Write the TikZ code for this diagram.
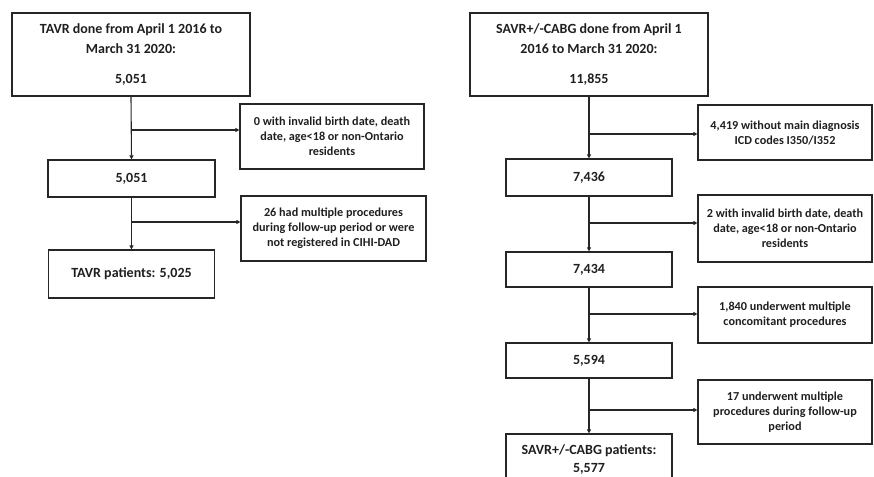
\documentclass[tikz,border=0pt]{standalone}
\usepackage{fontspec}
\setmainfont{Carlito}
\usetikzlibrary{arrows.meta}
\begin{document}
\begin{tikzpicture}[x=1pt,y=-1pt,
  box/.style={draw=black!85,line width=1.2pt,align=center,inner sep=1pt,font=\bfseries\fontsize{14}{20}\selectfont,text=black!88},
  side/.style={draw=black!85,line width=1.2pt,align=center,inner sep=1pt,font=\bfseries\fontsize{12.2}{15}\selectfont,text=black!88},
  link/.style={draw=black!85,line width=1.1pt,-{Triangle[length=4pt,width=4pt]}},
  trunk/.style={draw=black!85,line width=1.1pt}]
\useasboundingbox (0,0) rectangle (874,476);
% left column
\node[box,minimum width=238pt,minimum height=83pt] (L1) at (131,54.5) {TAVR done from April 1 2016 to\\March 31 2020:\\[10pt]5,051};
\node[side,minimum width=184pt,minimum height=65pt] (LS1) at (332,136.5) {0 with invalid birth date, death\\date, age<18 or non-Ontario\\residents};
\node[box,minimum width=167pt,minimum height=37pt] (L2) at (131.5,178.5) {5,051};
\node[side,minimum width=185pt,minimum height=65pt] (LS2) at (333.5,228.5) {26 had multiple procedures\\during follow-up period or were\\not registered in CIHI-DAD};
\node[box,minimum width=166pt,minimum height=48pt] (L3) at (131.5,274) {TAVR patients: 5,025};
\draw[link] (L1.south) -- (L2.north);
\draw[link] (L2.south) -- (L3.north);
\coordinate (lb1) at (131.5,130);
\coordinate (lb2) at (131.5,222);
\draw[link] (lb1) -- (lb1 -| LS1.west);
\draw[link] (lb2) -- (lb2 -| LS2.west);
% right column
\node[box,minimum width=238pt,minimum height=83pt] (R1) at (589,54.5) {SAVR+/-CABG done from April 1\\2016 to March 31 2020:\\[10pt]11,855};
\node[side,minimum width=174pt,minimum height=55pt] (RS1) at (785,132.5) {4,419 without main diagnosis\\ICD codes I350/I352};
\node[box,minimum width=166pt,minimum height=37pt] (R2) at (589,177.5) {7,436};
\node[side,minimum width=174pt,minimum height=67pt] (RS2) at (785,228.5) {2 with invalid birth date, death\\date, age<18 or non-Ontario\\residents};
\node[box,minimum width=166pt,minimum height=35pt] (R3) at (589,269.5) {7,434};
\node[side,minimum width=174pt,minimum height=56pt] (RS3) at (785,315) {1,840 underwent multiple\\concomitant procedures};
\node[box,minimum width=166pt,minimum height=35pt] (R4) at (589,360.5) {5,594};
\node[side,minimum width=174pt,minimum height=64pt] (RS4) at (785,412) {17 underwent multiple\\procedures during follow-up\\period};
\node[box,minimum width=166pt,minimum height=52pt,font=\bfseries\fontsize{14}{18}\selectfont] (R5) at (589,460) {SAVR+/-CABG patients:\\5,577};
\draw[link] (R1.south) -- (R2.north);
\draw[link] (R2.south) -- (R3.north);
\draw[link] (R3.south) -- (R4.north);
\draw[link] (R4.south) -- (R5.north);
\coordinate (rb1) at (589,134);
\coordinate (rb2) at (589,223);
\coordinate (rb3) at (589,314);
\coordinate (rb4) at (589,410);
\draw[link] (rb1) -- (rb1 -| RS1.west);
\draw[link] (rb2) -- (rb2 -| RS2.west);
\draw[link] (rb3) -- (rb3 -| RS3.west);
\draw[link] (rb4) -- (rb4 -| RS4.west);
\end{tikzpicture}
\end{document}
